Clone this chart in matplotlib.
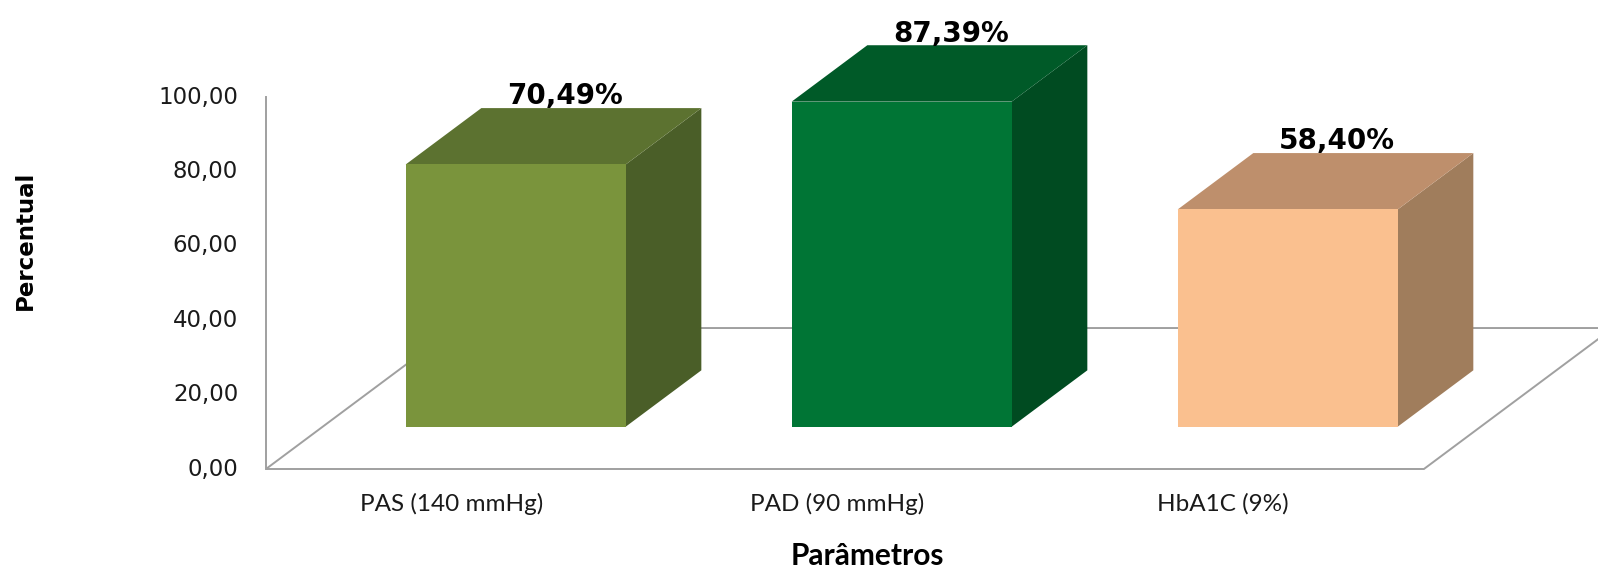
import matplotlib
matplotlib.use("Agg")
import matplotlib.pyplot as plt
from matplotlib.patches import Polygon

# Dados do gráfico
parametros = ['PAS (140 mmHg)', 'PAD (90 mmHg)', 'HbA1C (9%)']
percentual = [70.49, 87.39, 58.40]
rotulos = ['70,49%', '87,39%', '58,40%']
yticks = [0, 20, 40, 60, 80, 100]

# cores: frente, topo e lateral de cada barra
cor_frente = ['#7A943C', '#007535', '#FAC08F']
cor_topo = ['#5C7230', '#005A28', '#BE8F6C']
cor_lado = ['#4A5E28', '#004B21', '#A07D5C']

# perspectiva "3D" estilo Excel
DX = 0.49      # deslocamento em x no fundo do piso (unidades de categoria)
DY = 37.9      # deslocamento em y no fundo do piso (unidades de valor)
t0, t1 = 0.3, 0.7   # profundidade da frente e do fundo das barras
larg = 0.57
cinza = '#A0A0A0'


def proj(x, y, t):
    return (x + t * DX, y + t * DY)


fig = plt.figure(figsize=(15.98, 5.70), dpi=100)
ax = fig.add_axes([0, 0, 1, 1])
ax.set_xlim(-1.189, 2.951)
ax.set_ylim(-27.15, 126.08)
ax.axis('off')

# piso
x_ini, x_fim = -0.5, len(parametros) - 0.5
piso = [proj(x_ini, 0, 0), proj(x_fim, 0, 0), proj(x_fim, 0, 1), proj(x_ini, 0, 1)]
ax.add_patch(Polygon(piso, closed=True, fill=False, edgecolor=cinza, lw=1.4, zorder=1))

# eixo y
ax.plot([x_ini, x_ini], [0, max(yticks)], color=cinza, lw=1.4, zorder=1)
for v in yticks:
    ax.annotate(f"{v:.2f}".replace('.', ','), xy=(x_ini, v), xytext=(-20, 0),
                textcoords='offset points', ha='right', va='center',
                fontsize=16.5, color='#1a1a1a')

# barras
for i, v in enumerate(percentual):
    xl, xr = i - larg / 2, i + larg / 2
    frente = [proj(xl, 0, t0), proj(xr, 0, t0), proj(xr, v, t0), proj(xl, v, t0)]
    topo = [proj(xl, v, t0), proj(xr, v, t0), proj(xr, v, t1), proj(xl, v, t1)]
    lado = [proj(xr, 0, t0), proj(xr, 0, t1), proj(xr, v, t1), proj(xr, v, t0)]
    ax.add_patch(Polygon(lado, closed=True, facecolor=cor_lado[i], edgecolor='none', zorder=2))
    ax.add_patch(Polygon(topo, closed=True, facecolor=cor_topo[i], edgecolor='none', zorder=2))
    ax.add_patch(Polygon(frente, closed=True, facecolor=cor_frente[i], edgecolor='none', zorder=3))
    ym = v + 1 + t1 * DY
    ax.text(i + (t0 + t1) / 2 * DX + 0.03, ym, rotulos[i], ha='center', va='baseline',
            fontsize=20, fontweight='bold', color='black', zorder=4)

# rótulos das categorias
for i, nome in enumerate(parametros):
    ax.text(i - 0.02, -9.4, nome, ha='center', va='center', fontsize=17.5,
            family=['Lato', 'DejaVu Sans'], color='#1a1a1a')

fig.text(0.0156, 0.579, 'Percentual', rotation=90, ha='center', va='center',
         fontsize=16.5, fontweight='bold')
fig.text(0.543, 0.0246, 'Parâmetros', ha='center', va='center',
         fontsize=21.5, fontweight='bold', family=['Lato', 'DejaVu Sans'])

plt.savefig('out.png', dpi=100)
